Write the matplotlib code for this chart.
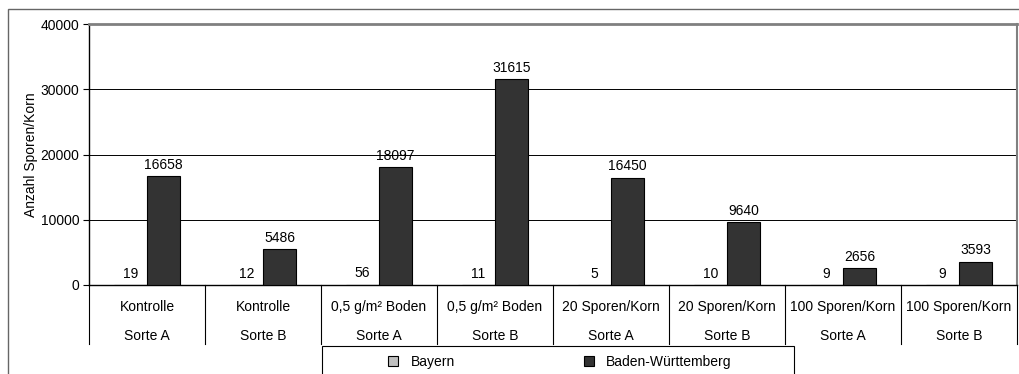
import numpy as np
import matplotlib
matplotlib.use("Agg")
import matplotlib.pyplot as plt
from matplotlib.patches import Rectangle

plt.rcParams["font.family"] = ["Liberation Sans", "DejaVu Sans"]
plt.rcParams["font.size"] = 10

# Category rows of the x axis
treatments = ["Kontrolle", "Kontrolle", "0,5 g/m² Boden", "0,5 g/m² Boden",
              "20 Sporen/Korn", "20 Sporen/Korn", "100 Sporen/Korn", "100 Sporen/Korn"]
varieties = ["Sorte A", "Sorte B", "Sorte A", "Sorte B",
             "Sorte A", "Sorte B", "Sorte A", "Sorte B"]

bayern = [19, 12, 56, 11, 5, 10, 9, 9]
baden_wuerttemberg = [16658, 5486, 18097, 31615, 16450, 9640, 2656, 3593]

y_ticks = [0, 10000, 20000, 30000, 40000]

W, H = 1019, 374
fig = plt.figure(figsize=(W / 100, H / 100), dpi=100)

# outer chart frame (runs off the bottom/right edge)
fig.patches.append(Rectangle((8 / W, -0.1), 1.2, 1 - 9 / H + 0.1,
                             transform=fig.transFigure, fill=False,
                             edgecolor="#666666", linewidth=1.0))

ax = fig.add_axes([89 / W, 1 - 285 / H, (1017 - 89) / W, (285 - 24) / H])

x = np.arange(len(treatments))
width = 0.285
b1 = ax.bar(x - width / 2, bayern, width, color="#c0c0c0", edgecolor="black",
            linewidth=0.8, label="Bayern", zorder=3)
b2 = ax.bar(x + width / 2, baden_wuerttemberg, width, color="#333333",
            edgecolor="black", linewidth=0.8, label="Baden-Württemberg", zorder=3)

for bars in (b1, b2):
    for rect in bars:
        h = rect.get_height()
        ax.annotate(f"{h:.0f}", (rect.get_x() + rect.get_width() / 2, h),
                    xytext=(0, 3), textcoords="offset points",
                    ha="center", va="bottom", fontsize=10)

ax.set_xlim(-0.5, len(treatments) - 0.5)
ax.set_ylim(0, 40000)
ax.set_yticks(y_ticks)
ax.set_yticklabels([str(t) for t in y_ticks])
ax.tick_params(axis="y", length=4, width=0.8, pad=3)
ax.set_xticks([])
ax.yaxis.grid(True, color="black", linewidth=0.7, zorder=0)
ax.set_axisbelow(True)

for side in ("top", "right"):
    ax.spines[side].set_color("#808080")
ax.spines["top"].set_linewidth(2.0)
ax.spines["right"].set_linewidth(1.5)
ax.spines["left"].set_linewidth(1.0)
ax.spines["bottom"].set_linewidth(1.0)

ax.set_ylabel("Anzahl Sporen/Korn", labelpad=2)

# two-row category table below the axis
trans = ax.get_xaxis_transform()
table_bottom = -(344 - 285) / (285 - 24)
for edge in np.arange(len(treatments) + 1) - 0.5:
    ax.plot([edge, edge], [0, table_bottom], color="black", linewidth=0.8,
            transform=trans, clip_on=False)
for i, (t, v) in enumerate(zip(treatments, varieties)):
    ax.text(i, -(307 - 285) / 261, t, transform=trans, ha="center", va="center")
    ax.text(i, -(336 - 285) / 261, v, transform=trans, ha="center", va="center")

# legend box below the table
fig.patches.append(Rectangle((322 / W, -0.1), (794 - 322) / W, 0.1 + 1 - 346 / H,
                             transform=fig.transFigure, fill=False,
                             edgecolor="black", linewidth=0.8))
fig.legend(handles=[b1, b2], loc="center", bbox_to_anchor=(560 / W, 1 - 362 / H),
           ncol=2, frameon=False, handlelength=0.7, handleheight=0.7,
           handletextpad=0.9, columnspacing=9.3, fontsize=10,
           borderpad=0, borderaxespad=0)

fig.savefig("out.png", dpi=100)
